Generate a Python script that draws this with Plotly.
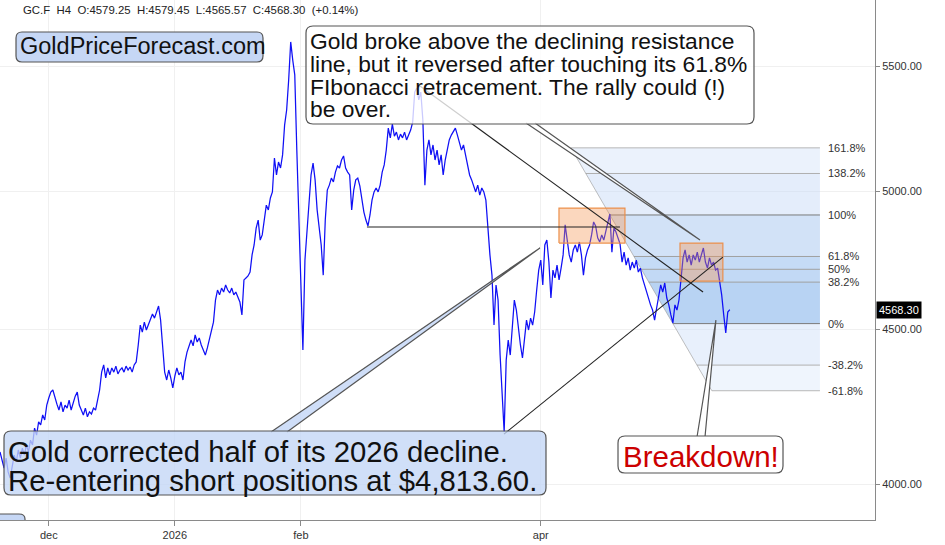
import numpy as np
import pandas as pd
import plotly.graph_objects as go

# ---------------- data ----------------
prices = [
    4099, 4074, 4049, 4080, 4037, 4018, 4058, 4089, 4068, 4105,
    4080, 4111, 4089, 4121, 4099, 4136, 4121, 4174, 4152, 4194,
    4184, 4216, 4200, 4248, 4271, 4290, 4297, 4271, 4251, 4232,
    4258, 4226, 4248, 4238, 4264, 4232, 4254, 4277, 4290, 4248,
    4232, 4216, 4238, 4210, 4226, 4219, 4238, 4232, 4264, 4297,
    4356, 4380, 4337, 4370, 4347, 4370, 4356, 4376, 4350, 4363,
    4370, 4356, 4376, 4363, 4373, 4356, 4380, 4390, 4447, 4515,
    4491, 4525, 4498, 4515, 4532, 4553, 4539, 4560, 4581, 4532,
    4447, 4356, 4330, 4363, 4337, 4304, 4343, 4370, 4347, 4356,
    4330, 4390, 4423, 4447, 4464, 4444, 4481, 4457, 4471, 4447,
    4430, 4413, 4437, 4464, 4498, 4525, 4602, 4637, 4620, 4644,
    4630, 4655, 4637, 4627, 4644, 4620, 4630, 4609, 4595, 4550,
    4673, 4680, 4687, 4701, 4763, 4799, 4861, 4891, 4817, 4836,
    4884, 4947, 4929, 4974, 4997, 5128, 5062, 5112, 5089, 5140,
    5258, 5319, 5442, 5602, 5525, 5463, 5159, 4929, 4673, 4430,
    4744, 4854, 4947, 5062, 5108, 5043, 4929, 4873, 4799, 4690,
    4891, 5004, 5023, 5050, 5035, 5073, 5097, 5089, 5120, 5136,
    5089, 5073, 5062, 4929, 5004, 5043, 5050, 5020, 4966, 4921,
    4891, 4869, 4910, 4966, 4997, 5012, 4997, 5023, 5073, 5101,
    5159, 5246, 5207, 5262, 5214, 5230, 5199, 5222, 5207, 5230,
    5199, 5218, 5238, 5270, 5392, 5409, 5360, 5392, 5279, 5023,
    5159, 5199, 5140, 5179, 5120, 5159, 5101, 5140, 5062, 5120,
    5159, 5199, 5218, 5230, 5246, 5218, 5191, 5159, 5179, 5140,
    5101, 5062, 5043, 5023, 4997, 5023, 4985, 5012, 4997, 4966,
    4854, 4763, 4690, 4515, 4655, 4602, 4413, 4264, 4162, 4396,
    4464, 4413, 4498, 4602, 4567, 4498, 4447, 4403, 4481, 4532,
    4498, 4539, 4515, 4560, 4637, 4708, 4744, 4655, 4799, 4817,
    4737, 4609, 4708, 4680, 4726, 4673, 4715, 4763, 4873, 4817,
    4763, 4737, 4781, 4799, 4773, 4810, 4763, 4690, 4752, 4781,
    4799, 4836, 4884, 4869, 4825, 4810, 4836, 4817, 4847, 4884,
    4914, 4773, 4862, 4847, 4825, 4803, 4737, 4773, 4726, 4752,
    4708, 4737, 4715, 4744, 4701, 4715, 4680, 4655, 4630, 4609,
    4585, 4567, 4532, 4574, 4620, 4655, 4630, 4662, 4609, 4585,
    4550, 4522, 4585, 4567, 4602, 4680, 4752, 4781, 4737, 4763,
    4726, 4763, 4744, 4773, 4737, 4763, 4788, 4737, 4715, 4752,
    4726, 4737, 4708, 4715, 4673, 4620, 4550, 4488, 4560, 4568.30,
]
start_time = "2025-11-19 00:00"
bar_step = "12h"

tick_dates = ["2025-12-01", "2026-01-01", "2026-02-01", "2026-04-01"]
tick_text = ["dec", "2026", "feb", "apr"]
price_ticks = [4000, 4500, 5000, 5500]

header_text = ("GC.F\u00a0 H4\u00a0 O:4579.25\u00a0 H:4579.45\u00a0 L:4565.57\u00a0 "
               "C:4568.30\u00a0 (+0.14%)")

# Fibonacci retracement (high -> low)
fib_high, fib_low = 4910, 4520
fib_high_date, fib_low_date = "2026-04-18 00:00", "2026-05-03 12:00"
fib_end_date = "2026-06-08 16:00"
fib_ratios = [1.618, 1.382, 1.0, 0.618, 0.5, 0.382, 0.0, -0.382, -0.618]
fib_labels = ["161.8%", "138.2%", "100%", "61.8%", "50%", "38.2%", "0%", "-38.2%", "-61.8%"]
fib_band_colors = ["rgba(205,222,248,0.40)", "rgba(195,215,246,0.45)",
                   "rgba(165,198,240,0.50)", "rgba(150,190,238,0.55)",
                   "rgba(150,190,238,0.58)", "rgba(140,184,236,0.62)",
                   "rgba(205,222,248,0.45)", "rgba(215,229,250,0.40)"]
fib_line_colors = ["#b8b8b8", "#b0b0b0", "#7a7a7a", "#a0a0a0", "#a0a0a0",
                   "#a0a0a0", "#7a7a7a", "#b0b0b0", "#b8b8b8"]

# drawn lines
support_dates = ["2026-02-17 06:00", "2026-04-20 11:30"]
support_prices = [4865, 4865]
resist_dates = ["2026-03-02 07:00", "2026-05-10 22:00"]
resist_prices = [5417, 4630]
rising_dates = ["2026-03-22 23:00", "2026-05-15 19:00"]
rising_prices = [4155, 4755]

# orange zones
zone1_dates = ["2026-04-05 11:30", "2026-04-21 17:00"]
zone1_prices = [4806, 4936]
zone2_dates = ["2026-05-05 06:00", "2026-05-15 19:00"]
zone2_prices = [4669, 4806]

# callout pointer targets (date, price)
tip_top = ("2026-05-10 04:00", 4817)
tip_bottom = ("2026-03-31 19:00", 4788)
tip_break = ("2026-05-14 02:00", 4532)

callout_top_lines = ["Gold broke above the declining resistance",
                     "line, but it reversed after touching its 61.8%",
                     "FIbonacci retracement. The rally could (!)",
                     "be over."]
callout_bottom_lines = ["Gold corrected half of its 2026 decline.",
                        "Re-entering short positions at $4,813.60."]
brand_text = "GoldPriceForecast.com"
break_text = "Breakdown!"

# ---------------- figure ----------------
dates = pd.date_range(start_time, periods=len(prices), freq=bar_step)

X_RANGE = [pd.Timestamp("2025-11-19 00:00"), pd.Timestamp("2026-06-22 05:00")]
Y_RANGE = [3.59015, 3.76222]
PW, PH = 875, 520
FONT = "Liberation Sans, Arial, Helvetica, sans-serif"


def paper_x_of(d):
    return (pd.Timestamp(d) - X_RANGE[0]) / (X_RANGE[1] - X_RANGE[0])


def paper_y_of(p):
    return (np.log10(p) - Y_RANGE[0]) / (Y_RANGE[1] - Y_RANGE[0])


def pp(x, y):
    return f"{x / PW:.5f},{1 - y / PH:.5f}"


def rrect_path(x0, y0, x1, y1, r):
    return (f"M{pp(x0 + r, y0)} L{pp(x1 - r, y0)} Q{pp(x1, y0)} {pp(x1, y0 + r)} "
            f"L{pp(x1, y1 - r)} Q{pp(x1, y1)} {pp(x1 - r, y1)} L{pp(x0 + r, y1)} "
            f"Q{pp(x0, y1)} {pp(x0, y1 - r)} L{pp(x0, y0 + r)} Q{pp(x0, y0)} {pp(x0 + r, y0)} Z")


def wedge_path(bx1, bx2, by, tip):
    tx, ty = paper_x_of(tip[0]), paper_y_of(tip[1])
    return f"M{pp(bx1, by)} L{tx:.5f},{ty:.5f} L{pp(bx2, by)}"


fig = go.Figure()

# Fibonacci bands
hd, ld = pd.Timestamp(fib_high_date), pd.Timestamp(fib_low_date)
fend = pd.Timestamp(fib_end_date)


def fib_price(r):
    return fib_low * (fib_high / fib_low) ** r


def fib_date(r):
    return hd + (1 - r) * (ld - hd)


for k in range(len(fib_ratios) - 1):
    ra, rb = fib_ratios[k], fib_ratios[k + 1]
    xs = [fib_date(ra), fend, fend, fib_date(rb), fib_date(ra)]
    ys = [fib_price(ra), fib_price(ra), fib_price(rb), fib_price(rb), fib_price(ra)]
    fig.add_trace(go.Scatter(x=xs, y=ys, mode="lines", fill="toself",
                             fillcolor=fib_band_colors[k], line=dict(width=0),
                             hoverinfo="skip"))

for r, c in zip(fib_ratios, fib_line_colors):
    fig.add_trace(go.Scatter(x=[fib_date(r), fend], y=[fib_price(r)] * 2, mode="lines",
                             line=dict(color=c, width=1), hoverinfo="skip"))

fig.add_trace(go.Scatter(x=[fib_date(fib_ratios[0]), fib_date(fib_ratios[-1])],
                         y=[fib_price(fib_ratios[0]), fib_price(fib_ratios[-1])],
                         mode="lines", line=dict(color="rgba(150,150,150,0.6)", width=1),
                         hoverinfo="skip"))

# price line
fig.add_trace(go.Scatter(x=dates, y=prices, mode="lines",
                         line=dict(color="#1010f5", width=1.25), hoverinfo="skip"))

# orange zones
for zd, zp in [(zone1_dates, zone1_prices), (zone2_dates, zone2_prices)]:
    fig.add_trace(go.Scatter(x=[zd[0], zd[1], zd[1], zd[0], zd[0]],
                             y=[zp[0], zp[0], zp[1], zp[1], zp[0]],
                             mode="lines", fill="toself",
                             fillcolor="rgba(245,150,85,0.38)",
                             line=dict(color="rgba(236,140,70,0.95)", width=1.2),
                             hoverinfo="skip"))

# drawn lines
for ld_, lp_ in [(support_dates, support_prices), (resist_dates, resist_prices),
                 (rising_dates, rising_prices)]:
    fig.add_trace(go.Scatter(x=ld_, y=lp_, mode="lines",
                             line=dict(color="#222222", width=1.1), hoverinfo="skip"))

shapes = []
BORDER = dict(color="#555555", width=1.2)
# wedges (drawn before boxes)
shapes.append(dict(type="path", xref="paper", yref="paper",
                   path=wedge_path(526, 535, 123, tip_top),
                   fillcolor="rgba(255,255,255,0.85)", line=BORDER, layer="above"))
shapes.append(dict(type="path", xref="paper", yref="paper",
                   path=wedge_path(271, 287, 432, tip_bottom),
                   fillcolor="rgba(195,214,246,0.8)", line=BORDER, layer="above"))
shapes.append(dict(type="path", xref="paper", yref="paper",
                   path=wedge_path(697, 705, 437, tip_break),
                   fillcolor="white", line=BORDER, layer="above"))
# boxes
shapes.append(dict(type="path", xref="paper", yref="paper",
                   path=rrect_path(306, 26, 754, 124, 7),
                   fillcolor="rgba(255,255,255,0.78)", line=BORDER, layer="above"))
shapes.append(dict(type="path", xref="paper", yref="paper",
                   path=rrect_path(4, 431, 546, 495, 7),
                   fillcolor="rgba(195,214,246,0.78)", line=BORDER, layer="above"))
shapes.append(dict(type="path", xref="paper", yref="paper",
                   path=rrect_path(16, 32, 263, 62, 6),
                   fillcolor="rgb(198,215,245)", line=BORDER, layer="above"))
shapes.append(dict(type="path", xref="paper", yref="paper",
                   path=rrect_path(618, 436, 783, 473, 7),
                   fillcolor="white", line=BORDER, layer="above"))
shapes.append(dict(type="path", xref="paper", yref="paper",
                   path=f"M{pp(-6, 520)} L{pp(-6, 514)} L{pp(19, 514)} Q{pp(25, 514)} {pp(25, 519)} L{pp(25, 520)}",
                   fillcolor="rgb(198,215,245)", line=BORDER, layer="above"))

annotations = []


def text_line(x, y, txt, size, color="#111111"):
    annotations.append(dict(xref="paper", yref="paper", x=x / PW, y=1 - y / PH,
                            xanchor="left", yanchor="middle", text=txt,
                            showarrow=False, borderpad=0,
                            font=dict(family=FONT, size=size, color=color)))


text_line(22, 10, header_text, 11.4, "#222222")
text_line(19, 46, brand_text, 23.5)
for j, t in enumerate(callout_top_lines):
    text_line(309, 41.5 + 22.6 * j, t, 22.8)
for j, t in enumerate(callout_bottom_lines):
    text_line(7, 451 + 29.5 * j, t, 29.3)
text_line(622, 456, break_text, 29.5, "#cc0000")

for r, lab in zip(fib_ratios, fib_labels):
    annotations.append(dict(xref="paper", yref="y", x=827 / PW, y=np.log10(fib_price(r)),
                            xanchor="left", yanchor="middle", text=lab, showarrow=False,
                            borderpad=0, font=dict(family=FONT, size=11, color="#333333")))

annotations.append(dict(xref="paper", yref="y", x=1.0, xshift=1, y=np.log10(prices[-1]),
                        xanchor="left", yanchor="middle", text=f"{prices[-1]:.2f}",
                        showarrow=False, bgcolor="black", borderpad=2,
                        font=dict(family=FONT, size=11, color="white")))

fig.update_layout(
    width=945, height=545, margin=dict(l=0, r=70, t=0, b=25),
    plot_bgcolor="white", paper_bgcolor="white", showlegend=False,
    font=dict(family=FONT, color="#222222"),
    shapes=shapes, annotations=annotations, hovermode=False,
)
fig.update_xaxes(type="date", range=X_RANGE, tickmode="array", tickvals=tick_dates,
                 ticktext=tick_text, showgrid=True, gridcolor="#f0f0f0", showline=True,
                 linecolor="#8a8a8a", ticks="outside", ticklen=5, tickcolor="#8a8a8a",
                 tickfont=dict(family=FONT, size=11, color="#333333"), zeroline=False)
fig.update_yaxes(type="log", range=Y_RANGE, side="right", tickmode="array",
                 tickvals=price_ticks, tickformat=".2f", showgrid=True, gridcolor="#f0f0f0",
                 showline=True, linecolor="#8a8a8a", ticks="outside", ticklen=4,
                 tickcolor="#8a8a8a", tickfont=dict(family=FONT, size=11, color="#333333"),
                 zeroline=False)

fig.write_html("out.html", config={"displayModeBar": False})
